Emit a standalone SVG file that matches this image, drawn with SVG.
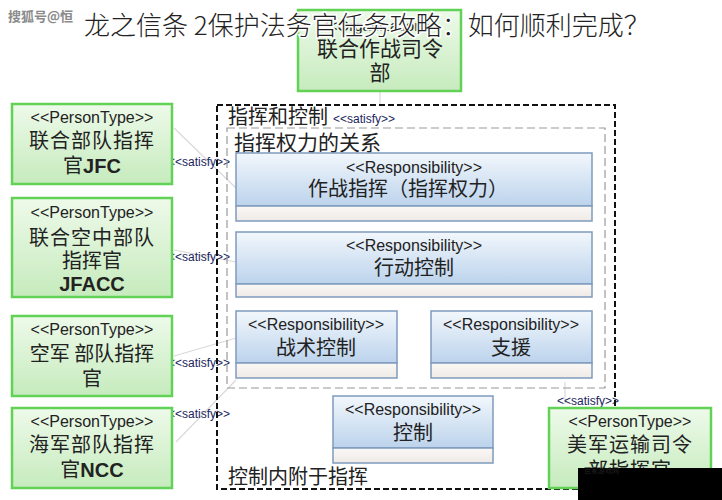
<svg xmlns="http://www.w3.org/2000/svg" width="722" height="500" viewBox="0 0 722 500">
<style>
.cn{font-family:"Noto Sans CJK SC","Noto Sans CJK JP",sans-serif;fill:#222}
.lt{font-family:"Liberation Sans",Arial,sans-serif;fill:#222}
.st{font-family:"Liberation Sans",Arial,sans-serif;font-size:12px;fill:#1c1f5e}
.pbox{fill:url(#gG);stroke:#62d256;stroke-width:2.5}
.rbox{fill:url(#gB);stroke:#7f9bbd;stroke-width:1.5}
.rlow{fill:url(#gL);stroke:#7f9bbd;stroke-width:1.5}
.faint{stroke:#dadada;stroke-width:1.2;fill:none}
</style>
<defs>
<linearGradient id="gG" x1="0" y1="0" x2="0" y2="1"><stop offset="0" stop-color="#eefaea"/><stop offset="1" stop-color="#c6ebbd"/></linearGradient>
<linearGradient id="gB" x1="0" y1="0" x2="0" y2="1"><stop offset="0" stop-color="#f2f7fc"/><stop offset="1" stop-color="#bcd3ec"/></linearGradient>
<linearGradient id="gL" x1="0" y1="0" x2="0" y2="1"><stop offset="0" stop-color="#faf8f6"/><stop offset="1" stop-color="#efeae6"/></linearGradient>
</defs>
<rect width="722" height="500" fill="#ffffff"/>

<g id="connectors">
<line class="faint" x1="380" y1="92" x2="380" y2="104"/>
<line class="faint" x1="174" y1="128" x2="236" y2="188"/>
<line class="faint" x1="174" y1="250" x2="236" y2="262"/>
<line class="faint" x1="174" y1="356" x2="236" y2="338"/>
<line class="faint" x1="176" y1="442" x2="236" y2="380"/>
<line class="faint" x1="565" y1="404" x2="565" y2="382"/>
<text class="st" x="168" y="166">&lt;&lt;satisfy&gt;&gt;</text>
<text class="st" x="168" y="261">&lt;&lt;satisfy&gt;&gt;</text>
<text class="st" x="168" y="367">&lt;&lt;satisfy&gt;&gt;</text>
<text class="st" x="168" y="418">&lt;&lt;satisfy&gt;&gt;</text>
<text class="st" x="333" y="123">&lt;&lt;satisfy&gt;&gt;</text>
<text class="st" x="557" y="405">&lt;&lt;satisfy&gt;&gt;</text>
</g>

<g id="c2-container">
<rect x="217" y="105" width="398" height="384" fill="none" stroke="#111" stroke-width="2" stroke-dasharray="6,3"/>
<text class="cn" x="228" y="124" font-size="20">指挥和控制</text>
<text class="cn" x="228" y="484" font-size="20">控制内附于指挥</text>
</g>

<g id="command-authority">
<rect x="227" y="128" width="378" height="260" fill="none" stroke="#9a9a9a" stroke-width="1.2" stroke-dasharray="8,4"/>
<text class="cn" x="234" y="150" font-size="21">指挥权力的关系</text>
</g>

<g id="joint-command">
<rect class="pbox" x="298" y="10" width="163" height="81"/>
<text class="lt" x="380" y="31" font-size="15" text-anchor="middle" fill="#999">&lt;&lt;Organization&gt;&gt;</text>
<text class="cn" x="380" y="56" font-size="21" text-anchor="middle">联合作战司令</text>
<text class="cn" x="380" y="80" font-size="21" text-anchor="middle">部</text>
</g>

<g id="jfc">
<rect class="pbox" x="12" y="104" width="160" height="80"/>
<text class="lt" x="92" y="123" font-size="16" text-anchor="middle">&lt;&lt;PersonType&gt;&gt;</text>
<text class="cn" x="92" y="148" font-size="20" text-anchor="middle" letter-spacing="1">联合部队指挥</text>
<text class="cn" x="92" y="173" font-size="20" text-anchor="middle">官<tspan class="lt" font-weight="bold">JFC</tspan></text>
</g>

<g id="jfacc">
<rect class="pbox" x="12" y="198" width="160" height="99"/>
<text class="lt" x="92" y="218" font-size="16" text-anchor="middle">&lt;&lt;PersonType&gt;&gt;</text>
<text class="cn" x="92" y="245" font-size="20" text-anchor="middle" letter-spacing="1">联合空中部队</text>
<text class="cn" x="92" y="268" font-size="20" text-anchor="middle">指挥官</text>
<text class="lt" x="92" y="291" font-size="20" font-weight="bold" text-anchor="middle">JFACC</text>
</g>

<g id="af">
<rect class="pbox" x="12" y="316" width="160" height="80"/>
<text class="lt" x="92" y="335" font-size="16" text-anchor="middle">&lt;&lt;PersonType&gt;&gt;</text>
<text class="cn" x="92" y="361" font-size="20" text-anchor="middle">空军 部队指挥</text>
<text class="cn" x="92" y="386" font-size="20" text-anchor="middle">官</text>
</g>

<g id="ncc">
<rect class="pbox" x="12" y="408" width="160" height="80"/>
<text class="lt" x="92" y="427" font-size="16" text-anchor="middle">&lt;&lt;PersonType&gt;&gt;</text>
<text class="cn" x="92" y="452" font-size="20" text-anchor="middle" letter-spacing="1">海军部队指挥</text>
<text class="cn" x="92" y="477" font-size="20" text-anchor="middle">官<tspan class="lt" font-weight="bold">NCC</tspan></text>
</g>

<g id="opcom">
<rect class="rbox" x="236" y="153" width="356" height="53"/>
<rect class="rlow" x="236" y="206" width="356" height="15"/>
<text class="lt" x="414" y="173" font-size="16" text-anchor="middle">&lt;&lt;Responsibility&gt;&gt;</text>
<text class="cn" x="408" y="196" font-size="20" text-anchor="middle">作战指挥（指挥权力）</text>
</g>

<g id="opcon">
<rect class="rbox" x="236" y="232" width="356" height="52"/>
<rect class="rlow" x="236" y="284" width="356" height="13"/>
<text class="lt" x="414" y="251" font-size="16" text-anchor="middle">&lt;&lt;Responsibility&gt;&gt;</text>
<text class="cn" x="414" y="275" font-size="20" text-anchor="middle">行动控制</text>
</g>

<g id="tacon">
<rect class="rbox" x="236" y="311" width="161" height="52"/>
<rect class="rlow" x="236" y="363" width="161" height="15"/>
<text class="lt" x="316" y="330" font-size="16" text-anchor="middle">&lt;&lt;Responsibility&gt;&gt;</text>
<text class="cn" x="316" y="355" font-size="20" text-anchor="middle">战术控制</text>
</g>

<g id="support">
<rect class="rbox" x="431" y="311" width="161" height="52"/>
<rect class="rlow" x="431" y="363" width="161" height="15"/>
<text class="lt" x="511" y="330" font-size="16" text-anchor="middle">&lt;&lt;Responsibility&gt;&gt;</text>
<text class="cn" x="511" y="355" font-size="20" text-anchor="middle">支援</text>
</g>

<g id="control">
<rect class="rbox" x="333" y="396" width="160" height="52"/>
<rect class="rlow" x="333" y="448" width="160" height="15"/>
<text class="lt" x="413" y="415" font-size="16" text-anchor="middle">&lt;&lt;Responsibility&gt;&gt;</text>
<text class="cn" x="413" y="440" font-size="20" text-anchor="middle">控制</text>
</g>

<g id="ustranscom">
<rect class="pbox" x="549" y="408" width="162" height="80"/>
<text class="lt" x="630" y="427" font-size="16" text-anchor="middle">&lt;&lt;PersonType&gt;&gt;</text>
<text class="cn" x="630" y="452" font-size="20" text-anchor="middle" letter-spacing="1">美军运输司令</text>
<text class="cn" x="630" y="477" font-size="20" text-anchor="middle" letter-spacing="1">部指挥官</text>
</g>

<g id="overlay">
<rect x="578" y="468" width="144" height="32" fill="#000"/>
<text class="cn" x="584" y="473" font-size="7" fill="#3355aa">百家游戏网</text>
<text x="84" y="35" font-family="Noto Sans CJK SC, sans-serif" font-size="26" font-weight="300" fill="#222" stroke="#fff" stroke-width="3" paint-order="stroke">龙之信条 2保护法务官任务攻略：如何顺利完成？</text>
<text x="8" y="21" font-family="Noto Sans CJK SC, sans-serif" font-size="13" font-weight="bold" fill="#8a8a8a" stroke="#fff" stroke-width="2" paint-order="stroke">搜狐号@恒</text>
</g>
</svg>
